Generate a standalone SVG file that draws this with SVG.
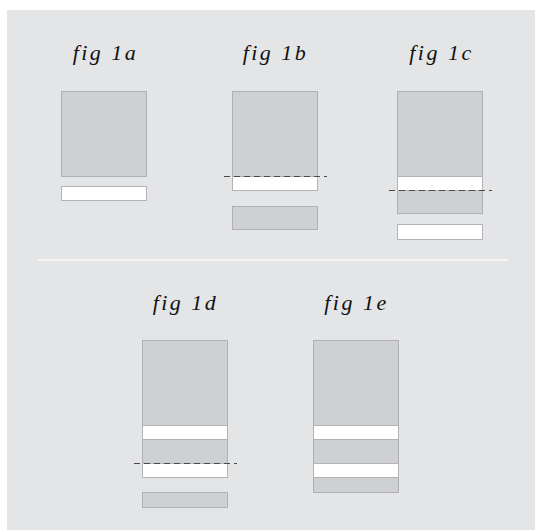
<svg xmlns="http://www.w3.org/2000/svg" width="535" height="531" viewBox="0 0 535 531">
<style>
.bg{fill:#e4e5e7}
.g{fill:#cfd0d2;stroke:#b1b1b3;stroke-width:1}
.w{fill:#ffffff;stroke:#b3b3b5;stroke-width:1}
.cut{stroke:#4a4a4a;stroke-width:1.2;stroke-dasharray:6 4;fill:none}
.lbl{font-family:"Liberation Serif","Times New Roman",serif;font-style:italic;font-size:22px;letter-spacing:2.5px;fill:#111111;text-anchor:middle}
.sep{stroke:#f5f5f6;stroke-width:2}
</style>
<rect x="0" y="0" width="535" height="531" fill="#ffffff"/>
<rect class="bg" x="7" y="10" width="528" height="520"/>
<line class="sep" x1="38" y1="260" x2="508" y2="260"/>
<g id="fig1a">
<text class="lbl" x="105.5" y="60">fig 1a</text>
<rect class="g" x="61.5" y="91.5" width="85" height="85"/>
<rect class="w" x="61.5" y="186.5" width="85" height="14"/>
</g>
<g id="fig1b">
<text class="lbl" x="275.5" y="60">fig 1b</text>
<rect class="g" x="232.5" y="91.5" width="85" height="85"/>
<rect class="w" x="232.5" y="176.5" width="85" height="14"/>
<rect class="g" x="232.5" y="206.5" width="85" height="23"/>
<line class="cut" x1="224" y1="176.5" x2="327" y2="176.5"/>
</g>
<g id="fig1c">
<text class="lbl" x="441.5" y="60">fig 1c</text>
<rect class="g" x="397.5" y="91.5" width="85" height="85"/>
<rect class="w" x="397.5" y="176.5" width="85" height="14"/>
<rect class="g" x="397.5" y="190.5" width="85" height="23"/>
<rect class="w" x="397.5" y="224.5" width="85" height="15"/>
<line class="cut" x1="389" y1="190.5" x2="492" y2="190.5"/>
</g>
<g id="fig1d">
<text class="lbl" x="185.5" y="310">fig 1d</text>
<rect class="g" x="142.5" y="340.5" width="85" height="85"/>
<rect class="w" x="142.5" y="425.5" width="85" height="14"/>
<rect class="g" x="142.5" y="439.5" width="85" height="24"/>
<rect class="w" x="142.5" y="463.5" width="85" height="14"/>
<rect class="g" x="142.5" y="492.5" width="85" height="15"/>
<line class="cut" x1="134" y1="463.5" x2="237" y2="463.5"/>
</g>
<g id="fig1e">
<text class="lbl" x="356.5" y="310">fig 1e</text>
<rect class="g" x="313.5" y="340.5" width="85" height="85"/>
<rect class="w" x="313.5" y="425.5" width="85" height="14"/>
<rect class="g" x="313.5" y="439.5" width="85" height="24"/>
<rect class="w" x="313.5" y="463.5" width="85" height="14"/>
<rect class="g" x="313.5" y="477.5" width="85" height="15"/>
</g>
</svg>
